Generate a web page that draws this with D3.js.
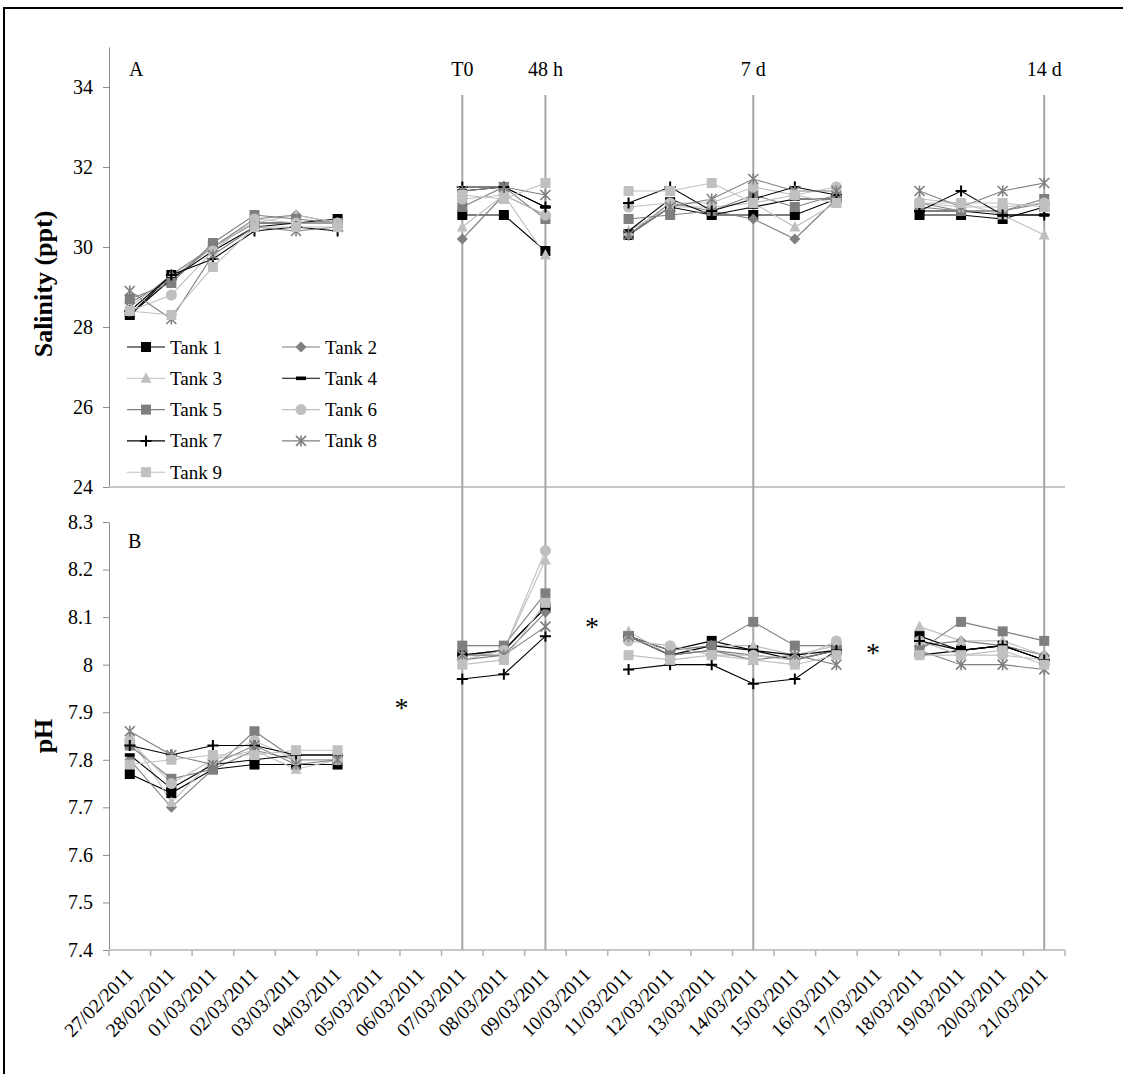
<!DOCTYPE html>
<html>
<head>
<meta charset="utf-8">
<script src="https://cdn.jsdelivr.net/npm/d3@7"></script>
<style>
  html, body { margin: 0; padding: 0; background: #fff; }
  svg { display: block; font-family: "Liberation Serif", "Times New Roman", serif; }
</style>
</head>
<body>
<svg id="chart" width="1123" height="1074"></svg>
<script>
// Sampling dates (category axis)
const dates = ["27/02/2011","28/02/2011","01/03/2011","02/03/2011","03/03/2011","04/03/2011",
  "05/03/2011","06/03/2011","07/03/2011","08/03/2011","09/03/2011","10/03/2011","11/03/2011",
  "12/03/2011","13/03/2011","14/03/2011","15/03/2011","16/03/2011","17/03/2011","18/03/2011",
  "19/03/2011","20/03/2011","21/03/2011"];

const tankNames = ["Tank 1","Tank 2","Tank 3","Tank 4","Tank 5","Tank 6","Tank 7","Tank 8","Tank 9"];

// Salinity (ppt) per tank, null = not sampled
const n = null;
const salinity1 = [28.3,29.3,30.0,30.6,30.6,30.7,n,n,30.8,30.8,29.9,n,30.3,31.0,30.8,30.8,30.8,31.2,n,30.8,30.8,30.7,31.0];
const salinity2 = [28.6,29.2,30.0,30.7,30.8,30.6,n,n,30.2,31.3,30.8,n,30.3,31.1,30.9,30.7,30.2,31.2,n,31.1,30.9,30.9,31.1];
const salinity3 = [28.5,29.3,30.0,30.6,30.8,30.6,n,n,30.5,31.3,29.8,n,30.4,31.0,31.0,31.1,30.5,31.1,n,31.2,31.1,30.8,30.3];
const salinity4 = [28.3,29.2,29.9,30.5,30.6,30.6,n,n,31.4,31.5,31.0,n,30.4,31.2,30.8,31.0,31.2,31.2,n,30.9,30.9,30.8,30.8];
const salinity5 = [28.7,29.1,30.1,30.8,30.7,30.6,n,n,31.0,31.5,30.7,n,30.7,30.8,30.9,31.3,31.0,31.3,n,31.0,30.9,30.9,31.2];
const salinity6 = [28.4,28.8,29.9,30.7,30.6,30.6,n,n,31.2,31.3,30.8,n,31.0,31.1,31.1,31.5,31.3,31.5,n,31.1,31.0,31.0,31.1];
const salinity7 = [28.4,29.3,29.7,30.4,30.5,30.4,n,n,31.5,31.5,31.0,n,31.1,31.5,30.9,31.2,31.5,31.3,n,30.9,31.4,30.8,30.8];
const salinity8 = [28.9,28.2,29.8,30.5,30.4,30.5,n,n,31.4,31.5,31.3,n,30.3,31.0,31.2,31.7,31.4,31.4,n,31.4,31.0,31.4,31.6];
const salinity9 = [28.4,28.3,29.5,30.5,30.5,30.5,n,n,31.3,31.2,31.6,n,31.4,31.4,31.6,31.1,31.3,31.1,n,31.1,31.1,31.1,31.0];

// pH per tank
const ph1 = [7.77,7.73,7.78,7.79,7.79,7.79,n,n,8.02,8.03,8.12,n,8.06,8.03,8.05,8.03,8.01,8.03,n,8.06,8.03,8.04,8.01];
const ph2 = [7.80,7.70,7.78,7.82,7.80,7.80,n,n,8.01,8.02,8.11,n,8.06,8.02,8.03,8.02,8.01,8.03,n,8.04,8.05,8.04,8.02];
const ph3 = [7.85,7.71,7.80,7.82,7.78,7.80,n,n,8.02,8.03,8.22,n,8.07,8.02,8.04,8.04,8.02,8.04,n,8.08,8.05,8.05,8.02];
const ph4 = [7.81,7.74,7.79,7.80,7.81,7.81,n,n,8.02,8.03,8.12,n,8.06,8.02,8.04,8.03,8.02,8.03,n,8.02,8.03,8.04,8.01];
const ph5 = [7.83,7.76,7.78,7.86,7.80,7.80,n,n,8.04,8.04,8.15,n,8.06,8.03,8.04,8.09,8.04,8.04,n,8.03,8.09,8.07,8.05];
const ph6 = [7.84,7.75,7.80,7.84,7.80,7.80,n,n,8.01,8.03,8.24,n,8.05,8.04,8.02,8.02,8.01,8.05,n,8.05,8.02,8.02,8.01];
const ph7 = [7.83,7.81,7.83,7.83,7.81,7.81,n,n,7.97,7.98,8.06,n,7.99,8.00,8.00,7.96,7.97,8.03,n,8.05,8.03,8.04,8.01];
const ph8 = [7.86,7.81,7.79,7.83,7.79,7.80,n,n,8.02,8.02,8.08,n,8.06,8.02,8.03,8.01,8.02,8.00,n,8.03,8.00,8.00,7.99];
const ph9 = [7.79,7.80,7.81,7.81,7.82,7.82,n,n,8.00,8.01,8.13,n,8.02,8.01,8.02,8.01,8.00,8.02,n,8.02,8.02,8.03,8.00];

const salinitySeries = [salinity1,salinity2,salinity3,salinity4,salinity5,salinity6,salinity7,salinity8,salinity9];
const phSeries = [ph1,ph2,ph3,ph4,ph5,ph6,ph7,ph8,ph9];

// Axis ticks
const salinityTicks = [24,26,28,30,32,34];
const phTicks = [7.4,7.5,7.6,7.7,7.8,7.9,8.0,8.1,8.2,8.3];

// Sampling time points marked with vertical lines
const events = [
  {date: "07/03/2011", label: "T0"},
  {date: "09/03/2011", label: "48 h"},
  {date: "14/03/2011", label: "7 d"},
  {date: "21/03/2011", label: "14 d"}
];

// Significance markers in panel B (position in category units, pH level)
const asterisks = [{at: 7.04, ph: 7.92}, {at: 11.62, ph: 8.09}, {at: 18.38, ph: 8.035}];

// Per-tank styling
const lineColors   = ["#000000","#7f7f7f","#bfbfbf","#000000","#7f7f7f","#bfbfbf","#000000","#7f7f7f","#c0c0c0"];
const markerColors = ["#000000","#7f7f7f","#bfbfbf","#000000","#7f7f7f","#bfbfbf","#000000","#7f7f7f","#c0c0c0"];
const markerTypes  = ["square","diamond","triangle","dash","square","circle","plus","star","square"];

const svg = d3.select("#chart");

// outer frame
svg.append("rect").attr("x", 4).attr("y", 8).attr("width", 1130).attr("height", 1080)
  .attr("fill", "none").attr("stroke", "#000").attr("stroke-width", 2);

const plotLeft = 109, plotRight = 1065;
const x = d3.scaleBand().domain(dates).range([plotLeft, plotRight]).paddingInner(0).paddingOuter(0);
const xc = d => x(d) + x.bandwidth() / 2;
const xIndex = d3.scaleLinear().domain([0, dates.length]).range([plotLeft, plotRight]);

const yA = d3.scaleLinear().domain([24, 35]).range([487, 47]);
const yB = d3.scaleLinear().domain([7.4, 8.3]).range([950, 522]);

const axisGrey = "#8c8c8c";
const lightAxis = "#b4b4b4";

function drawMarker(g, type, color) {
  switch (type) {
    case "square":
      g.append("rect").attr("x", -5).attr("y", -5).attr("width", 10).attr("height", 10).attr("fill", color);
      break;
    case "diamond":
      g.append("path").attr("d", "M0,-5.5L5.5,0L0,5.5L-5.5,0Z").attr("fill", color);
      break;
    case "triangle":
      g.append("path").attr("d", "M0,-6L5.5,4.5L-5.5,4.5Z").attr("fill", color);
      break;
    case "circle":
      g.append("circle").attr("r", 5.5).attr("fill", color);
      break;
    case "dash":
      g.append("rect").attr("x", -5).attr("y", -1.8).attr("width", 10).attr("height", 3.6).attr("fill", color);
      break;
    case "plus":
      g.append("path").attr("d", "M-5.5,0H5.5M0,-5.5V5.5").attr("stroke", color).attr("stroke-width", 2).attr("fill", "none");
      break;
    case "star":
      g.append("path").attr("d", "M-5,-5L5,5M-5,5L5,-5M0,-5.5V5.5").attr("stroke", color).attr("stroke-width", 1.6).attr("fill", "none");
      break;
  }
}

function drawSeries(seriesList, y) {
  const line = d3.line()
    .defined(d => d.v !== null)
    .x(d => xc(d.date))
    .y(d => y(d.v));
  seriesList.forEach((vals, i) => {
    const pts = vals.map((v, k) => ({date: dates[k], v}));
    svg.append("path").datum(pts)
      .attr("d", line)
      .attr("fill", "none")
      .attr("stroke", lineColors[i])
      .attr("stroke-width", 1.1);
  });
  seriesList.forEach((vals, i) => {
    vals.forEach((v, k) => {
      if (v === null) return;
      const g = svg.append("g").attr("transform", `translate(${xc(dates[k])},${y(v)})`);
      drawMarker(g, markerTypes[i], markerColors[i]);
    });
  });
}

// ---- Panel A: salinity ----
const axA = svg.append("g").attr("transform", `translate(${plotLeft},0)`)
  .call(d3.axisLeft(yA).tickValues(salinityTicks).tickSize(6).tickSizeOuter(0).tickPadding(10).tickFormat(d3.format("d")));
axA.select(".domain").attr("stroke", axisGrey);
axA.selectAll(".tick line").attr("stroke", axisGrey);
axA.selectAll(".tick text").attr("font-size", 20).attr("fill", "#000").attr("font-family", "Liberation Serif");

svg.append("line").attr("x1", plotLeft).attr("x2", plotRight).attr("y1", yA(24)).attr("y2", yA(24))
  .attr("stroke", lightAxis).attr("stroke-width", 1.3);

// ---- Panel B: pH ----
const axB = svg.append("g").attr("transform", `translate(${plotLeft},0)`)
  .call(d3.axisLeft(yB).tickValues(phTicks).tickSize(6).tickSizeOuter(0).tickPadding(10)
    .tickFormat(d => (Math.abs(d - 8) < 1e-9 ? "8" : d3.format(".1f")(d))));
axB.select(".domain").attr("stroke", axisGrey);
axB.selectAll(".tick line").attr("stroke", axisGrey);
axB.selectAll(".tick text").attr("font-size", 20).attr("fill", "#000").attr("font-family", "Liberation Serif");

// x axis at the bottom of panel B
const axX = svg.append("g").attr("transform", `translate(0,${yB(7.4)})`);
axX.append("line").attr("x1", plotLeft).attr("x2", plotRight).attr("stroke", lightAxis).attr("stroke-width", 1.5);
axX.selectAll("line.tk").data(dates.concat(["end"])).join("line").attr("class", "tk")
  .attr("x1", d => d === "end" ? plotRight : x(d))
  .attr("x2", d => d === "end" ? plotRight : x(d))
  .attr("y1", 0).attr("y2", 6).attr("stroke", lightAxis).attr("stroke-width", 1.5);
axX.selectAll("text").data(dates).join("text")
  .attr("transform", d => `translate(${xc(d) - 5},16) rotate(-45)`)
  .attr("text-anchor", "end")
  .attr("dy", "0.71em")
  .attr("font-size", 19.5)
  .text(d => d);

// vertical event lines and labels
events.forEach(e => {
  svg.append("line").attr("x1", xc(e.date)).attr("x2", xc(e.date))
    .attr("y1", 95).attr("y2", yB(7.4))
    .attr("stroke", "#a6a6a6").attr("stroke-width", 2);
  svg.append("text").attr("x", xc(e.date)).attr("y", 76)
    .attr("text-anchor", "middle").attr("font-size", 20).text(e.label);
});

drawSeries(salinitySeries, yA);
drawSeries(phSeries, yB);

// panel letters
svg.append("text").attr("x", 129).attr("y", 76).attr("font-size", 20).text("A");
svg.append("text").attr("x", 128).attr("y", 548).attr("font-size", 20).text("B");

// axis titles
svg.append("text").attr("transform", "translate(52,284) rotate(-90)")
  .attr("text-anchor", "middle").attr("font-weight", "bold").attr("font-size", 26).text("Salinity (ppt)");
svg.append("text").attr("transform", "translate(52,736) rotate(-90)")
  .attr("text-anchor", "middle").attr("font-weight", "bold").attr("font-size", 26).text("pH");

// asterisks
asterisks.forEach(a => {
  svg.append("text").attr("x", xIndex(a.at)).attr("y", yB(a.ph) + 14)
    .attr("text-anchor", "middle").attr("font-size", 28).text("*");
});

// legend
const legendCols = [127, 282];
const legendRow0 = 347, legendRowStep = 31.3;
tankNames.forEach((name, i) => {
  const col = i % 2, row = Math.floor(i / 2);
  const lx = legendCols[col], ly = legendRow0 + row * legendRowStep;
  const g = svg.append("g").attr("transform", `translate(${lx},${ly})`);
  g.append("line").attr("x1", 0).attr("x2", 38).attr("y1", 0).attr("y2", 0)
    .attr("stroke", lineColors[i]).attr("stroke-width", 1.1);
  const m = g.append("g").attr("transform", "translate(19,0)");
  drawMarker(m, markerTypes[i], markerColors[i]);
  g.append("text").attr("x", 43).attr("y", 6.5).attr("font-size", 19).text(name);
});
</script>
</body>
</html>
